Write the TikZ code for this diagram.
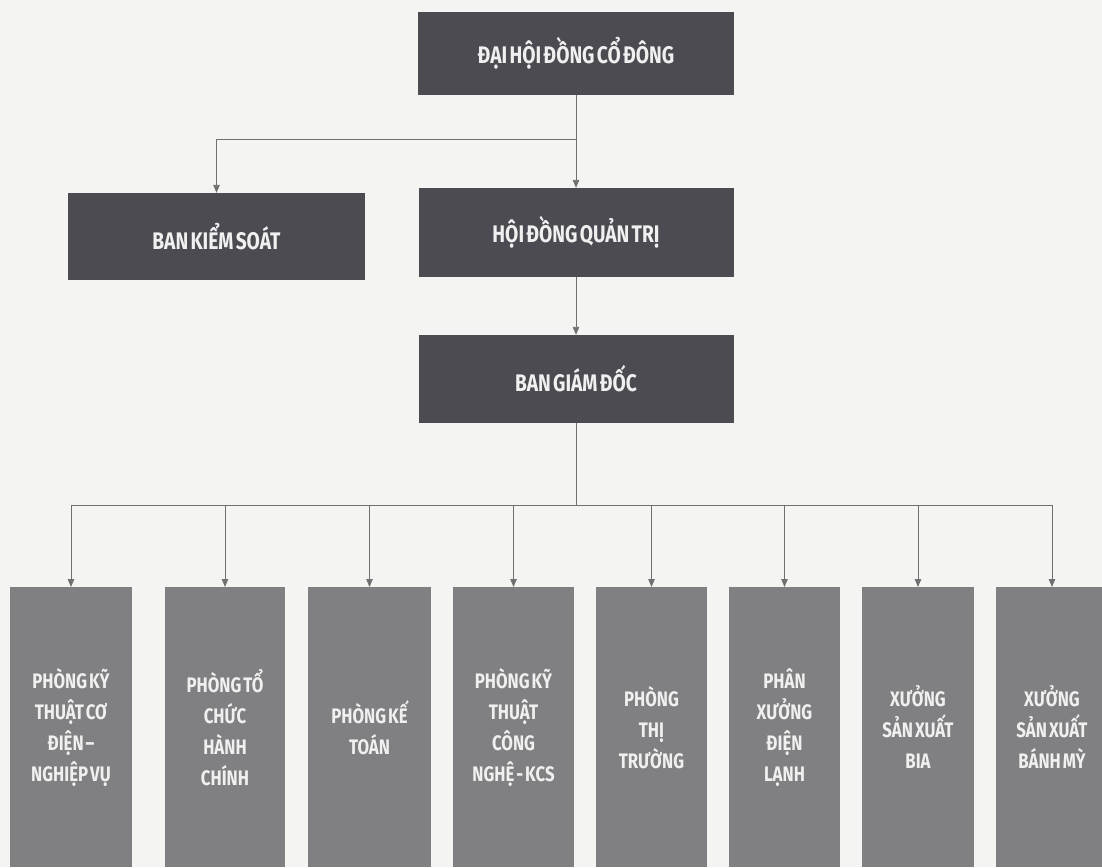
\documentclass[tikz,border=0pt]{standalone}
\usepackage{fontspec}
\newfontfamily\chartfont{Fira Sans}[FakeStretch=0.8,WordSpace=0.5]
\usetikzlibrary{arrows.meta}
\definecolor{boxdark}{RGB}{76,75,82}
\definecolor{boxgrey}{RGB}{128,128,131}
\definecolor{wire}{RGB}{112,112,112}
\definecolor{paper}{RGB}{244,244,242}
\tikzset{
  headbox/.style={fill=boxdark, text=white!94!black, inner sep=0pt,
    font=\chartfont\bfseries\fontsize{24}{28}\selectfont},
  unitbox/.style={fill=boxgrey, text=white!94!black, inner sep=0pt, anchor=north,
    align=center, minimum height=280pt,
    font=\chartfont\bfseries\fontsize{21}{31}\selectfont},
  link/.style={draw=wire, line width=0.9pt},
  arr/.style={link, -{Triangle[length=8pt,width=6.5pt]}}
}
\begin{document}
\begin{tikzpicture}[x=1pt,y=-1pt]
\useasboundingbox (0,0) rectangle (1102,867);
\fill[paper] (0,0) rectangle (1102,867);
% upper levels
\node[headbox, minimum width=316pt, minimum height=83pt] (dhcd) at (576,53.5) {ĐẠI HỘI ĐỒNG CỔ ĐÔNG};
\node[headbox, minimum width=297pt, minimum height=87pt] (bks) at (216.5,236.5) {BAN KIỂM SOÁT};
\node[headbox, minimum width=315pt, minimum height=89pt] (hdqt) at (576,232.5) {HỘI ĐỒNG QUẢN TRỊ};
\node[headbox, minimum width=315pt, minimum height=88pt] (bgd) at (576,379) {BAN GIÁM ĐỐC};
\coordinate (top bus) at (576,139);
\draw[link] (dhcd.south) -- (top bus);
\draw[arr] (top bus) -| (bks.north);
\draw[arr] (top bus) -- (hdqt.north);
\draw[arr] (hdqt.south) -- (bgd.north);
% departments
\coordinate (low bus) at (576,505);
\draw[link] (bgd.south) -- (low bus);
\foreach \name/\cx/\w/\txt in {
  u1/71/122/{PHÒNG KỸ\\THUẬT CƠ\\ĐIỆN –\\NGHIỆP VỤ},
  u2/225/120/{PHÒNG TỔ\\CHỨC\\HÀNH\\CHÍNH},
  u3/369.5/123/{PHÒNG KẾ\\TOÁN},
  u4/513.5/121/{PHÒNG KỸ\\THUẬT\\CÔNG\\NGHỆ - KCS},
  u5/651.5/111/{PHÒNG\\THỊ\\TRƯỜNG},
  u6/784.5/111/{PHÂN\\XƯỞNG\\ĐIỆN\\LẠNH},
  u7/918/112/{XƯỞNG\\SẢN XUẤT\\BIA},
  u8/1052/112/{XƯỞNG\\SẢN XUẤT\\BÁNH MỲ}}{
  \node[unitbox, minimum width=\w pt] (\name) at (\cx,587) {\txt};
  \coordinate (bus \name) at (\cx,505);
  \draw[arr] (bus \name) -- (\name.north);
}
\draw[link] (bus u1) -- (bus u8);
\end{tikzpicture}
\end{document}
